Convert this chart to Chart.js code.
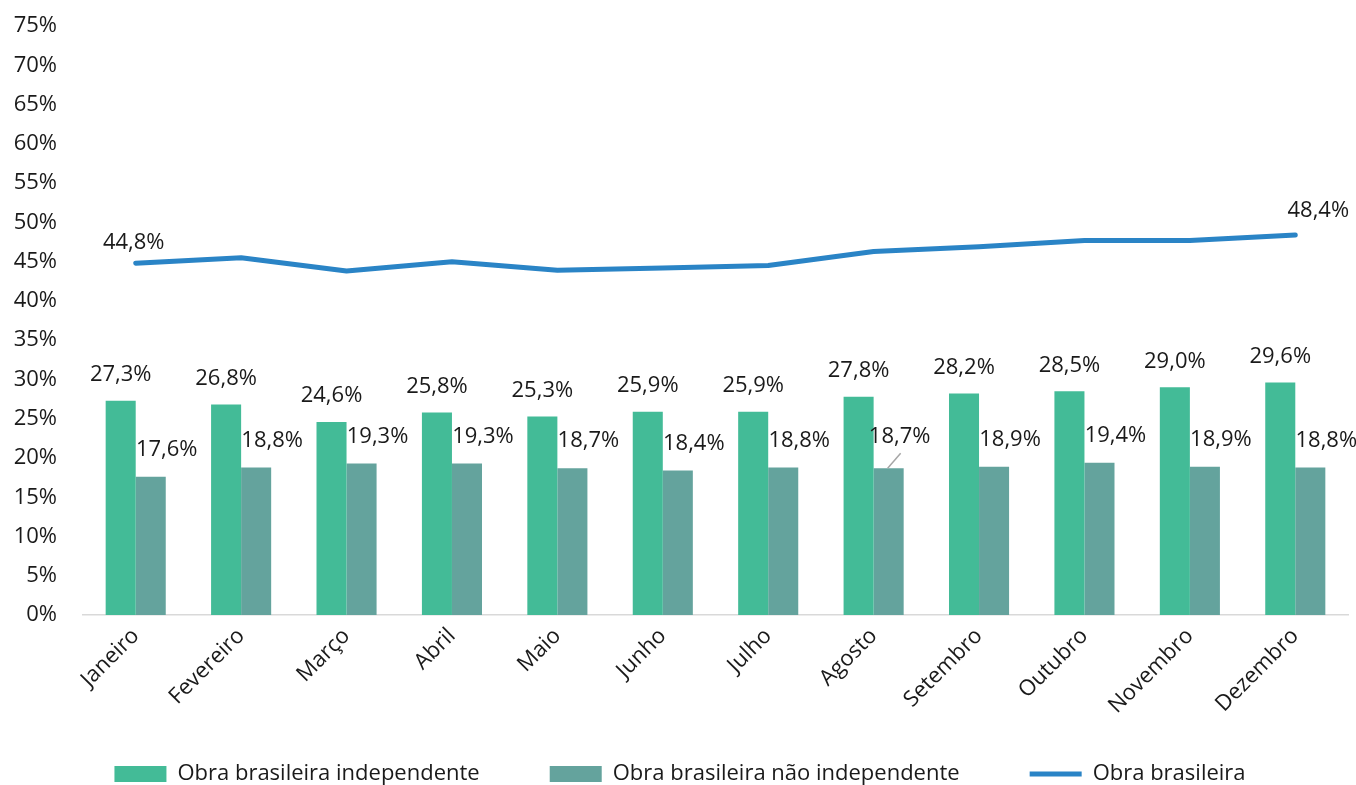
<!DOCTYPE html>
<html>
<head>
<meta charset="utf-8">
<script src="https://cdn.jsdelivr.net/npm/chart.js@4.4.0/dist/chart.umd.min.js"></script>
<style>
html,body{margin:0;padding:0;background:#fff;}
#wrap{width:1356px;height:785px;}
</style>
</head>
<body>
<div id="wrap"><canvas id="c"></canvas></div>
<script>
const categories = ['Janeiro','Fevereiro','Março','Abril','Maio','Junho','Julho','Agosto','Setembro','Outubro','Novembro','Dezembro'];
const independente = [27.3,26.8,24.6,25.8,25.3,25.9,25.9,27.8,28.2,28.5,29.0,29.6];
const naoIndependente = [17.6,18.8,19.3,19.3,18.7,18.4,18.8,18.7,18.9,19.4,18.9,18.8];
const obraBrasileira = [44.8,45.5,43.8,45.0,43.9,44.2,44.5,46.3,46.9,47.7,47.7,48.4];
const seriesNames = ['Obra brasileira independente','Obra brasileira não independente','Obra brasileira'];
const yTicks = {min:0, max:75, step:5};

const FONT = "'Open Sans', sans-serif";
const FS = 22;
const LEGEND_PAD = 70;
const fmt = v => v.toFixed(1).replace('.', ',') + '%';

const labelPlugin = {
  id: 'labels',
  afterInit(chart) {
    const lg = chart.legend;
    if (lg) {
      const orig = lg.fit;
      lg.fit = function() { orig.call(this); this.height = 58; };
    }
  },
  afterLayout(chart) {
    const lg = chart.legend;
    if (lg) {
      lg.top = 763 - LEGEND_PAD;
      lg.bottom = chart.height;
      lg.left += 6; lg.right += 6;
    }
  },
  afterDatasetsDraw(chart) {
    const ctx = chart.ctx;
    ctx.save();
    ctx.font = FS + "px " + FONT;
    ctx.fillStyle = '#1a1a1a';
    ctx.textAlign = 'center';
    ctx.textBaseline = 'middle';
    chart.getDatasetMeta(1).data.forEach((el, i) => {
      ctx.fillText(fmt(independente[i]), el.x, el.y - 26);
    });
    chart.getDatasetMeta(2).data.forEach((el, i) => {
      if (i === 7) {
        ctx.fillText(fmt(naoIndependente[i]), el.x + 11, el.y - 31);
        ctx.strokeStyle = '#a6a6a6';
        ctx.lineWidth = 1.5;
        ctx.beginPath();
        ctx.moveTo(el.x - 1, el.y);
        ctx.lineTo(el.x + 12, el.y - 15);
        ctx.stroke();
      } else {
        ctx.fillText(fmt(naoIndependente[i]), el.x + 16, el.y - 27);
      }
    });
    const lm = chart.getDatasetMeta(0).data;
    ctx.fillText(fmt(obraBrasileira[0]), lm[0].x - 2, lm[0].y - 20);
    const n = lm.length - 1;
    ctx.fillText(fmt(obraBrasileira[n]), lm[n].x + 23, lm[n].y - 24);
    ctx.restore();
  }
};

new Chart(document.getElementById('c'), {
  data: {
    labels: categories,
    datasets: [
      {type:'line', label: seriesNames[2], data: obraBrasileira, borderColor:'#2A84C6', backgroundColor:'#2A84C6',
       borderWidth:5, pointRadius:0, pointStyle:'line', tension:0, order:0, borderCapStyle:'round', borderJoinStyle:'round'},
      {type:'bar', label: seriesNames[0], data: independente, backgroundColor:'#43BB97', pointStyle:'rect',
       categoryPercentage:0.57, barPercentage:1.0, order:1},
      {type:'bar', label: seriesNames[1], data: naoIndependente, backgroundColor:'#64A39D', pointStyle:'rect',
       categoryPercentage:0.57, barPercentage:1.0, order:1}
    ]
  },
  options: {
    responsive:true, maintainAspectRatio:false, animation:false,
    layout:{padding:{top:0, right:8, left:0, bottom:0}},
    plugins:{
      tooltip:{enabled:false},
      legend:{
        position:'bottom',
        labels:{
          usePointStyle:true, pointStyleWidth:52, boxHeight:16,
          font:{family:FONT, size:FS}, color:'#1a1a1a', padding:LEGEND_PAD,
          sort:(a,b)=>{const o=[1,2,0];return o.indexOf(a.datasetIndex)-o.indexOf(b.datasetIndex);}
        }
      }
    },
    scales:{
      x:{
        grid:{display:false, drawTicks:false},
        border:{display:true, color:'#d9d9d9', width:1.5},
        ticks:{font:{family:FONT, size:FS}, color:'#1a1a1a', minRotation:45, maxRotation:45, padding:8}
      },
      y:{
        min:yTicks.min, max:yTicks.max,
        grid:{display:false, drawTicks:false},
        border:{display:false},
        ticks:{stepSize:yTicks.step, font:{family:FONT, size:FS}, color:'#1a1a1a', padding:26,
               callback:v=>v+'%'},
        afterFit:(s)=>{ s.width = 83; s.paddingTop = 26; s.paddingBottom = 13; }
      }
    }
  },
  plugins:[labelPlugin]
});
</script>
</body>
</html>
